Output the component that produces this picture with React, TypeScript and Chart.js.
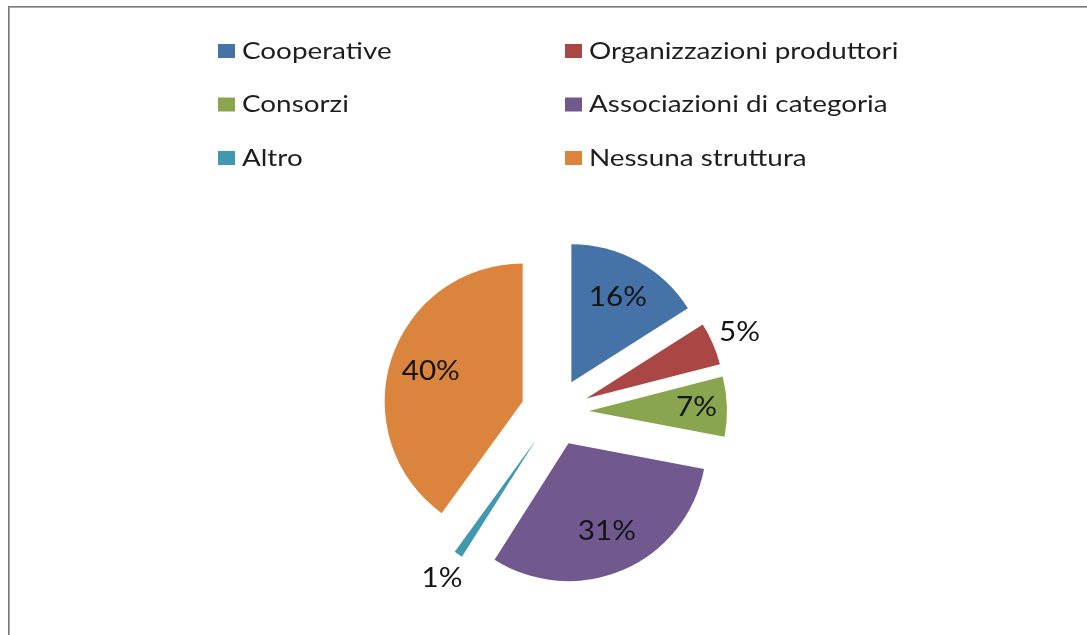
import React, { useEffect, useRef } from "react";
import { Chart, registerables } from "chart.js";

Chart.register(...registerables);

// ---- data ----
const categories = [
  "Cooperative",
  "Organizzazioni produttori",
  "Consorzi",
  "Associazioni di categoria",
  "Altro",
  "Nessuna struttura",
];
const shares = [16, 5, 7, 31, 1, 40];
const percentLabels = ["16%", "5%", "7%", "31%", "1%", "40%"];
const sliceColors = ["#4572A7", "#AA4643", "#89A54E", "#71588F", "#4198AF", "#DB843D"];

// ---- styling ----
const EXPLODE = 34;
const FONT_FAMILY = "Lato, 'Open Sans', sans-serif";
const LEGEND_STRETCH = 1.16;
const LABEL_STRETCH = 1.14;
const LEGEND_FONT = `24px ${FONT_FAMILY}`;
const LABEL_FONT = `26px ${FONT_FAMILY}`;
const LEGEND_COL_X = [218, 565];
const LEGEND_ROW_Y = [51, 104.5, 158];

function drawStretched(ctx: CanvasRenderingContext2D, text: string, x: number, y: number, font: string, align: CanvasTextAlign, color: string, stretch: number) {
  ctx.save();
  ctx.translate(x, y);
  ctx.scale(stretch, 1);
  ctx.font = font;
  ctx.fillStyle = color;
  ctx.textAlign = align;
  ctx.textBaseline = "middle";
  ctx.fillText(text, 0, 0);
  ctx.restore();
}

const framePlugin = {
  id: "frame",
  beforeDraw(chart: any) {
    const ctx = chart.ctx as CanvasRenderingContext2D;
    const w = chart.width, h = chart.height;
    ctx.save();
    ctx.fillStyle = "#ffffff";
    ctx.fillRect(0, 0, w, h);
    ctx.fillStyle = "#7a7a7a";
    ctx.fillRect(8, 6, w - 8, 1);
    ctx.fillRect(8, 6, 1, h - 6);
    ctx.fillStyle = "#a8a8a8";
    ctx.fillRect(9, 7, w - 9, 1);
    ctx.fillRect(9, 7, 1, h - 7);
    ctx.restore();
  },
};

const explodePlugin = {
  id: "explode",
  afterDatasetUpdate(chart: any, args: any) {
    const meta = args.meta || chart.getDatasetMeta(args.index);
    meta.data.forEach((arc: any) => {
      const mid = (arc.startAngle + arc.endAngle) / 2;
      arc.x += Math.cos(mid) * EXPLODE;
      arc.y += Math.sin(mid) * EXPLODE;
    });
  },
};

const sliceLabelPlugin = {
  id: "sliceLabels",
  afterDatasetsDraw(chart: any) {
    const ctx = chart.ctx as CanvasRenderingContext2D;
    const meta = chart.getDatasetMeta(0);
    meta.data.forEach((arc: any, i: number) => {
      const v = shares[i];
      const mid = (arc.startAngle + arc.endAngle) / 2;
      const f = v < 6 ? 1.21 : v < 10 ? 0.78 : 0.7;
      const r = arc.outerRadius * f;
      const x = arc.x + Math.cos(mid) * r;
      const y = arc.y + Math.sin(mid) * r;
      drawStretched(ctx, percentLabels[i], x, y, LABEL_FONT, "center", "#141414", LABEL_STRETCH);
    });
  },
};

const gridLegendPlugin = {
  id: "gridLegend",
  afterDraw(chart: any) {
    const ctx = chart.ctx as CanvasRenderingContext2D;
    categories.forEach((name, i) => {
      const bx = LEGEND_COL_X[i % 2];
      const by = LEGEND_ROW_Y[Math.floor(i / 2)];
      ctx.save();
      ctx.fillStyle = sliceColors[i];
      ctx.fillRect(bx, by - 7, 17, 14);
      ctx.restore();
      drawStretched(ctx, name, bx + 24, by, LEGEND_FONT, "left", "#1e1e1e", LEGEND_STRETCH);
    });
  },
};

export default function App() {
  const canvasRef = useRef<HTMLCanvasElement | null>(null);

  useEffect(() => {
    const canvas = canvasRef.current;
    if (!canvas) return;
    const chart = new Chart(canvas, {
      type: "pie",
      data: {
        labels: categories,
        datasets: [
          {
            data: shares,
            backgroundColor: sliceColors,
            borderWidth: 0,
            hoverOffset: 0,
          },
        ],
      },
      options: {
        responsive: false,
        animation: false,
        devicePixelRatio: 1,
        radius: 138,
        layout: { padding: { top: 200, bottom: 11, left: 33, right: 10 } },
        plugins: {
          legend: { display: false },
          tooltip: { enabled: false },
        },
      } as any,
      plugins: [framePlugin, explodePlugin, sliceLabelPlugin, gridLegendPlugin],
    });
    return () => chart.destroy();
  }, []);

  return (
    <div style={{ position: "fixed", left: 0, top: 0, width: 1087, height: 635, background: "#fff" }}>
      <canvas ref={canvasRef} width={1087} height={635} style={{ width: 1087, height: 635, display: "block" }} />
    </div>
  );
}
